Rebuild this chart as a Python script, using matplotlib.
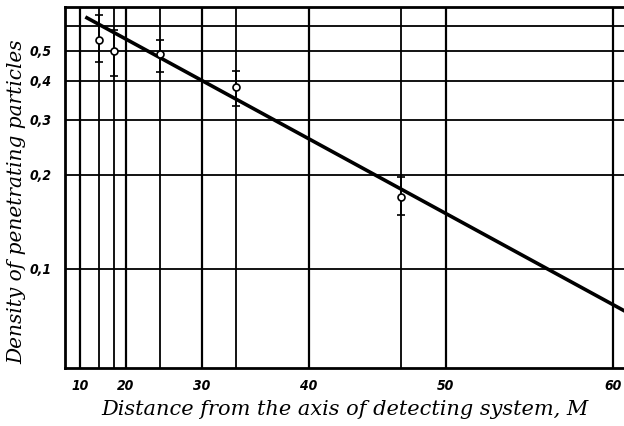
import numpy as np
import matplotlib
matplotlib.use("Agg")
import matplotlib.pyplot as plt

# Data
r_points = [15, 18, 25, 33.5, 47]
density = [0.542, 0.500, 0.489, 0.383, 0.170]
err_low = [0.460, 0.415, 0.428, 0.333, 0.148]
err_high = [0.652, 0.583, 0.542, 0.431, 0.196]

fit_r = [12.0, 60.6]
fit_density = [0.637, 0.0733]

x_ticks = [10, 20, 30, 40, 50, 60]
x_labels = ["10", "20", "30", "40", "50", "60"]
y_ticks = [0.1, 0.2, 0.3, 0.4, 0.5, 0.6]
y_labels = ["0,1", "0,2", "0,3", "0,4", "0,5", ""]

fig = plt.figure(figsize=(6.24, 4.26), dpi=100)
ax = fig.add_axes([65/624, 1-368/426, 1-65/624, (368-7)/426])

fwd = lambda x: np.sign(x) * np.asarray(x, dtype=float)**2
inv = lambda x: np.sqrt(np.abs(x))
ax.set_xscale('function', functions=(fwd, inv))
ax.set_yscale('log')
ax.set_xlim(0, 60.6)
ax.set_ylim(0.048, 0.69)

# grid
for xv in x_ticks:
    ax.axvline(xv, color='black', lw=1.6, zorder=1)
for xv in r_points:
    ax.axvline(xv, color='black', lw=1.3, zorder=1)
for yv in y_ticks:
    ax.axhline(yv, color='black', lw=1.3, zorder=1)

# fitted line (straight in r^2 vs log)
rr = np.linspace(fit_r[0], fit_r[1], 200)
slope = (np.log10(fit_density[1]) - np.log10(fit_density[0])) / (fit_r[1]**2 - fit_r[0]**2)
yy = 10**(np.log10(fit_density[0]) + slope * (rr**2 - fit_r[0]**2))
ax.plot(rr, yy, color='black', lw=2.6, zorder=3, clip_on=True)

d = np.array(density)
yerr = [d - np.array(err_low), np.array(err_high) - d]
ax.errorbar(r_points, density, yerr=yerr, fmt='o', ms=5, mfc='white', mec='black',
            mew=1.2, ecolor='black', elinewidth=1.2, capsize=3, capthick=1.0, zorder=4)

ax.set_xticks(x_ticks)
ax.set_xticklabels(x_labels)
ax.set_yticks(y_ticks)
ax.set_yticklabels(y_labels)
ax.minorticks_off()
ax.tick_params(axis='x', length=0, pad=8)
ax.tick_params(axis='y', length=0, pad=10)
for lab in ax.get_xticklabels() + ax.get_yticklabels():
    lab.set_fontstyle('italic')
    lab.set_fontweight('bold')
    lab.set_fontsize(10)
    lab.set_fontfamily('DejaVu Sans')
    lab.set_fontstretch('condensed')

for s in ['left', 'bottom', 'top']:
    ax.spines[s].set_linewidth(2)
    ax.spines[s].set_color('black')
ax.spines['right'].set_visible(False)

ax.set_xlabel("Distance from the axis of detecting system, M",
              fontfamily='DejaVu Serif', fontstyle='italic', fontsize=15, labelpad=5)
fig.text(17/624, 1-202/426, "Density of penetrating particles", rotation=90,
         ha='center', va='center',
         fontfamily='DejaVu Serif', fontstyle='italic', fontsize=14.5)

fig.savefig("out.png", dpi=100)
